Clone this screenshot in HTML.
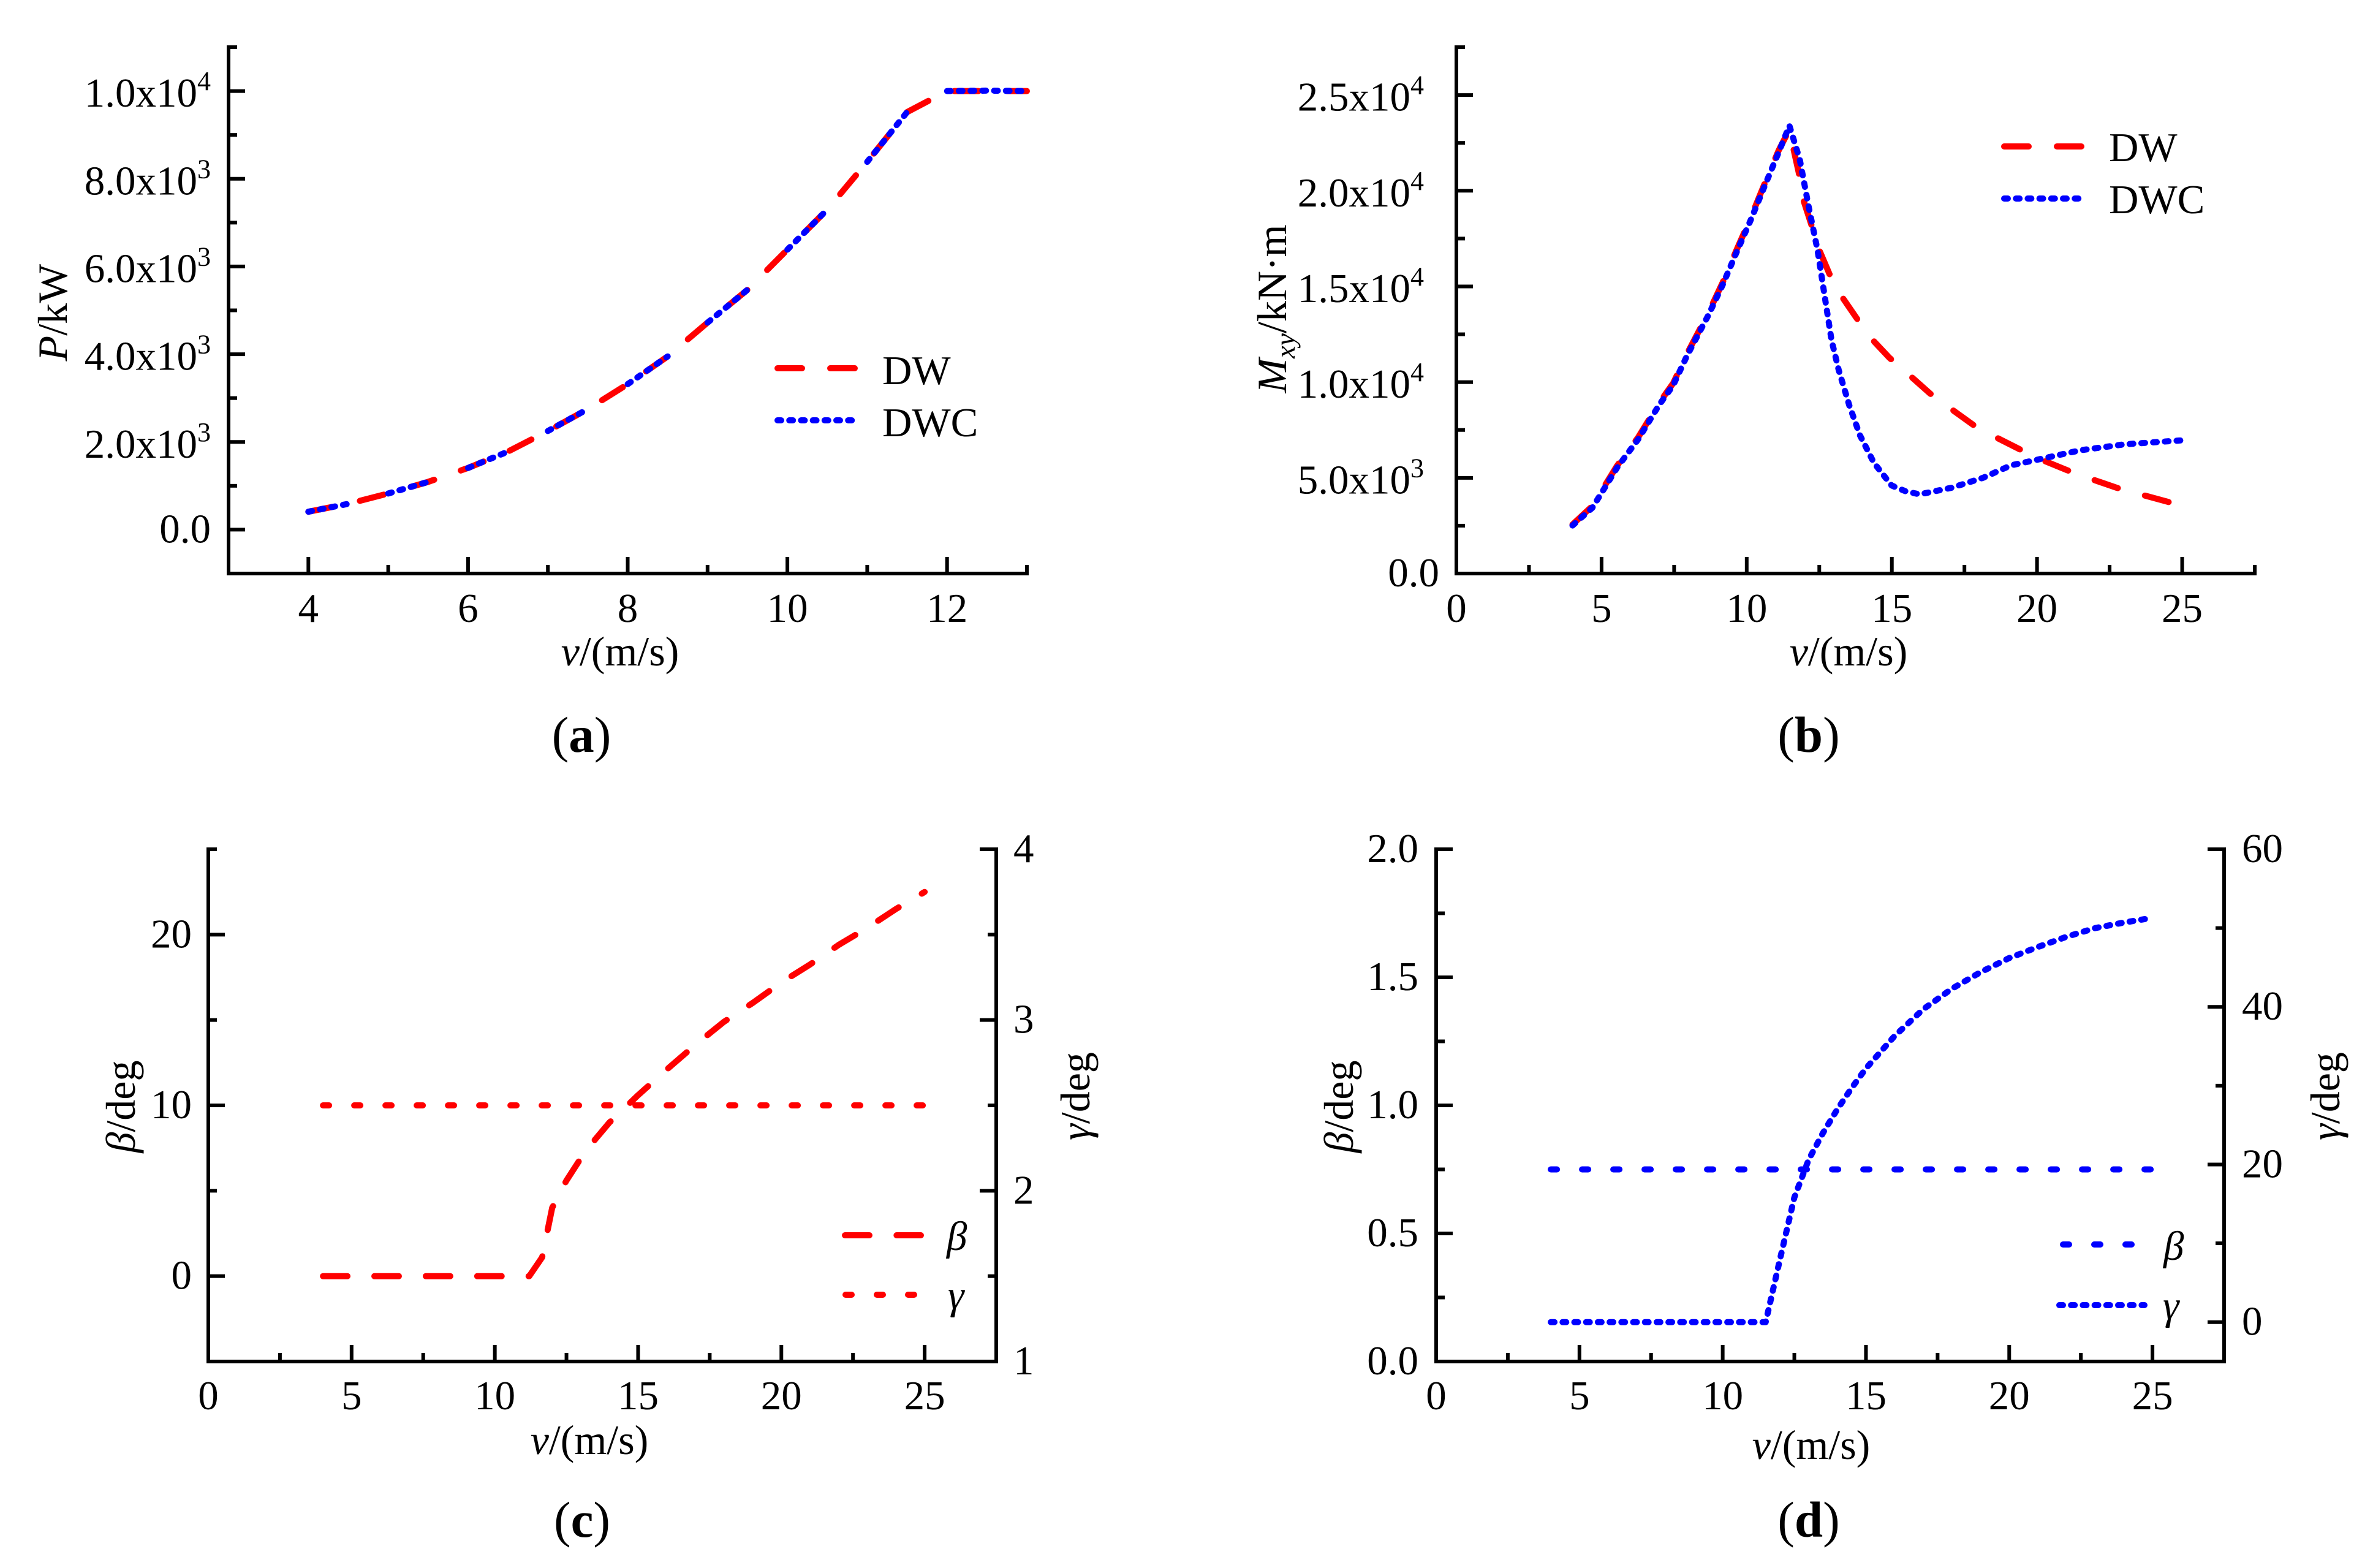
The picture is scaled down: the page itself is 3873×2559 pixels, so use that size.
<!DOCTYPE html>
<html lang="en">
<head>
<meta charset="utf-8">
<title>Wind turbine comparison charts</title>
<style>
html,body{margin:0;padding:0;background:#fff;width:3873px;height:2559px;overflow:hidden}
svg{display:block}
text{font-family:"Liberation Serif",serif;font-size:67px;fill:#000}
.it{font-style:italic}
text.xt{font-size:68px}
text.cap{font-size:83px}
.b{font-weight:bold}
.axis{fill:none;stroke:#000;stroke-width:6;stroke-linecap:square}
.tick{stroke:#000;stroke-width:6}
.series{fill:none;stroke-width:10;stroke-linecap:round;stroke-linejoin:round}
.red{stroke:#ff0000}
.blue{stroke:#0000ff}
.dash{stroke-dasharray:40 46}
.dashc{stroke-dasharray:40 44.3}
.dashs{stroke-dasharray:40 43.9}
.dot{stroke-dasharray:6 13.2}
.sdot{stroke-dasharray:10 41}
</style>
</head>
<body>
<svg id="figure" xmlns="http://www.w3.org/2000/svg" width="3873" height="2559" viewBox="0 0 3873 2559">
  <rect x="0" y="0" width="3873" height="2559" fill="#fff"/>

  <g id="panel-a">
    <text class="xt" x="1012" y="1086" text-anchor="middle"><tspan class="it">v</tspan>/(m/s)</text>
    <text class="xt" transform="translate(109 510) rotate(-90)" text-anchor="middle"><tspan class="it">P</tspan>/kW</text>
    <line class="series red dash" x1="1269" y1="601" x2="1395" y2="601"/>
    <text x="1440" y="627">DW</text>
    <line class="series blue dot" x1="1269" y1="686" x2="1403" y2="686"/>
    <text x="1440" y="712">DWC</text>
    <text class="cap" x="949" y="1227" text-anchor="middle">(<tspan class="b">a</tspan>)</text>
  </g>

  <g id="panel-b">
    <text class="xt" x="3017" y="1086" text-anchor="middle"><tspan class="it">v</tspan>/(m/s)</text>
    <text class="xt" transform="translate(2099 504) rotate(-90)" text-anchor="middle"><tspan class="it">M</tspan><tspan class="it" font-size="46" dy="14">xy</tspan><tspan dy="-14">/kN·m</tspan></text>
    <line class="series red dash" x1="3271" y1="239" x2="3397" y2="239"/>
    <text x="3442" y="263">DW</text>
    <line class="series blue dot" x1="3271" y1="324" x2="3405" y2="324"/>
    <text x="3442" y="348">DWC</text>
    <text class="cap" x="2952" y="1227" text-anchor="middle">(<tspan class="b">b</tspan>)</text>
  </g>

  <g id="panel-c">
    <text class="xt" x="962" y="2373" text-anchor="middle"><tspan class="it">v</tspan>/(m/s)</text>
    <text class="xt" transform="translate(220 1806) rotate(-90)" text-anchor="middle"><tspan class="it">β</tspan>/deg</text>
    <text class="xt" transform="translate(1778 1789) rotate(-90)" text-anchor="middle"><tspan class="it">γ</tspan>/deg</text>
    <line class="series red dashc" x1="1379" y1="2016" x2="1503" y2="2016"/>
    <text class="it" x="1545" y="2040">β</text>
    <line class="series red sdot" x1="1380" y1="2113" x2="1492" y2="2113"/>
    <text class="it" x="1547" y="2136">γ</text>
    <text class="cap" x="950" y="2508" text-anchor="middle">(<tspan class="b">c</tspan>)</text>
  </g>

  <g id="panel-d">
    <text class="xt" x="2956" y="2381" text-anchor="middle"><tspan class="it">v</tspan>/(m/s)</text>
    <text class="xt" transform="translate(2208 1806) rotate(-90)" text-anchor="middle"><tspan class="it">β</tspan>/deg</text>
    <text class="xt" transform="translate(3818 1789) rotate(-90)" text-anchor="middle"><tspan class="it">γ</tspan>/deg</text>
    <line class="series blue sdot" x1="3367" y1="2031" x2="3479" y2="2031"/>
    <text class="it" x="3531" y="2056">β</text>
    <line class="series blue dot" x1="3361" y1="2130" x2="3500" y2="2130"/>
    <text class="it" x="3530" y="2153">γ</text>
    <text class="cap" x="2952" y="2508" text-anchor="middle">(<tspan class="b">d</tspan>)</text>
  </g>
</svg>

<script>
// ---------- Panel (a) data ----------
const aSpeed = [4,4.5,5,5.5,6,6.5,7,7.5,8,8.5,9,9.5,10,10.5,11,11.5,12,12.5,13];
const aPowerDW = [410,590,824,1090,1407,1780,2250,2750,3318,3950,4720,5470,6384,7300,8386,9520,10000,10000,10000];
const aSpeedDWC = [4,4.5,null,5,5.5,null,6,6.5,null,7,7.5,null,8,8.5,null,9,9.5,null,10,10.5,null,11,11.5,null,12,12.5,13];
const aPowerDWC = [410,590,null,824,1090,null,1407,1780,null,2250,2750,null,3318,3950,null,4720,5470,null,6384,7300,null,8386,9520,null,10000,10010,10000];
const aXMajor = [4,6,8,10,12];
const aXMinor = [5,7,9,11,13];
const aXLabels = ['4','6','8','10','12'];
const aYMajor = [0,2000,4000,6000,8000,10000];
const aYMinor = [1000,3000,5000,7000,9000,11000];
const aYLabels = ['0.0','2.0x10','4.0x10','6.0x10','8.0x10','1.0x10'];
const aYExponents = ['','3','3','3','3','4'];

// ---------- Panel (b) data ----------
const bSpeedDW = [4,4.68,5,5.53,6.26,6.98,7.47,7.95,8.68,9.17,9.65,10.14,10.6,11.1,11.47,11.54,11.79,11.95,12.2,12.5,12.85,13.24,13.77,14.26,14.91,15.6,16.32,17.05,17.82,18.62,19.47,20.2,21.05,22,22.75,23.7,24.64,25];
const bMomentDW = [2560,3520,4320,5620,7110,8900,9950,11500,13620,15200,16900,18600,20300,22100,23200,22670,20970,19530,18350,16900,15650,14550,13380,12330,11280,10370,9400,8590,7750,7090,6440,5920,5390,4870,4480,4080,3690,3550];
const bSpeedDWC = [4,4.68,5,5.53,6.26,6.98,7.47,7.95,8.68,9.17,9.65,10.14,10.6,11.1,11.47,11.83,12.12,12.44,12.68,12.92,13.17,13.53,13.9,14.38,14.99,15.5,15.96,17.05,18.14,19.1,20.08,21.5,23,25];
const bMomentDWC = [2510,3430,4210,5520,7010,8800,9840,11400,13500,15080,16780,18480,20180,22000,23400,21620,19270,16900,14550,12200,10630,8800,7225,5785,4600,4280,4140,4480,5000,5650,5970,6440,6750,6960];
const bXMajor = [0,5,10,15,20,25];
const bXMinor = [2.5,7.5,12.5,17.5,22.5,27.5];
const bXLabels = ['0','5','10','15','20','25'];
const bYMajor = [0,5000,10000,15000,20000,25000];
const bYMinor = [2500,7500,12500,17500,22500,27500];
const bYLabels = ['0.0','5.0x10','1.0x10','1.5x10','2.0x10','2.5x10'];
const bYExponents = ['','3','4','4','4','4'];

// ---------- Panel (c) data ----------
const cSpeedBeta = [4,11.2,11.65,12,12.5,13,13.5,14,15,16,17,18,19,20,21,22,23,24,25];
const cBeta = [0,0,1.1,4,5.6,6.9,8,9,10.6,12.1,13.55,14.9,16,17.2,18.25,19.4,20.4,21.5,22.5];
const cSpeedGamma = [4,25];
const cGamma = [2.5,2.5];
const cXMajor = [0,5,10,15,20,25];
const cXMinor = [2.5,7.5,12.5,17.5,22.5,27.5];
const cXLabels = ['0','5','10','15','20','25'];
const cYMajor = [0,10,20];
const cYMinor = [-5,5,15,25];
const cYLabels = ['0','10','20'];
const cRightMajor = [1,2,3,4];
const cRightMinor = [1.5,2.5,3.5];
const cRightLabels = ['1','2','3','4'];

// ---------- Panel (d) data ----------
const dSpeedBeta = [4,25];
const dBeta = [0.75,0.75];
const dSpeedGamma = [4,11.5,12,12.5,13,13.5,14,14.5,15,16,17,18,19,20,21,22,23,24,25];
const dGamma = [0,0,8,15.8,20.6,24,27,29.7,32.2,36.3,39.7,42.3,44.4,46.2,47.6,48.9,50,50.7,51.3];
const dXMajor = [0,5,10,15,20,25];
const dXMinor = [2.5,7.5,12.5,17.5,22.5,27.5];
const dXLabels = ['0','5','10','15','20','25'];
const dYMajor = [0,0.5,1,1.5,2];
const dYMinor = [0.25,0.75,1.25,1.75];
const dYLabels = ['0.0','0.5','1.0','1.5','2.0'];
const dRightMajor = [0,20,40,60];
const dRightMinor = [-5,10,30,50];
const dRightLabels = ['0','20','40','60'];

const NS = 'http://www.w3.org/2000/svg';
const MAJOR = 27, MINOR = 14;

function mark(parent, tag, name, attrs) {
  const node = document.createElementNS(NS, tag);
  
  
  for (const key in attrs) node.setAttribute(key, attrs[key]);
  parent.appendChild(node);
  return node;
}

function scale(d0, d1, r0, r1) {
  return function (v) { return r0 + (v - d0) * (r1 - r0) / (d1 - d0); };
}

function drawSeries(parent, name, xs, ys, sx, sy, cls) {
  let d = '', pen = false;
  xs.forEach(function (x, i) {
    if (x === null || ys[i] === null) { pen = false; return; }
    d += (pen ? 'L' : 'M') + sx(x).toFixed(1) + ' ' + sy(ys[i]).toFixed(1);
    pen = true;
  });
  mark(parent, 'path', name, { d: d, class: 'series ' + cls });
}

function drawXAxis(parent, key, sx, x0, x1, y, major, minor, labels, labelY) {
  mark(parent, 'line', 'x-axis-line-' + key, { x1: x0, y1: y, x2: x1, y2: y, class: 'axis' });
  major.forEach(function (v, i) {
    mark(parent, 'line', 'x-major-tick-' + key, { x1: sx(v), y1: y, x2: sx(v), y2: y - MAJOR, class: 'tick' });
    const t = mark(parent, 'text', 'x-tick-label-' + key, { x: sx(v), y: labelY, 'text-anchor': 'middle' });
    t.textContent = labels[i];
  });
  minor.forEach(function (v) {
    mark(parent, 'line', 'x-minor-tick-' + key, { x1: sx(v), y1: y, x2: sx(v), y2: y - MINOR, class: 'tick' });
  });
}

function drawYAxis(parent, key, sy, x, yTop, yBot, dir, major, minor, labels, exps, labelX, anchor, plainX) {
  mark(parent, 'line', 'y-axis-line-' + key, { x1: x, y1: yTop, x2: x, y2: yBot, class: 'axis' });
  major.forEach(function (v, i) {
    mark(parent, 'line', 'y-major-tick-' + key, { x1: x, y1: sy(v), x2: x + dir * MAJOR, y2: sy(v), class: 'tick' });
    const hasExp = exps && exps[i];
    const lx = hasExp || plainX === undefined ? labelX : plainX;
    const t = mark(parent, 'text', 'y-tick-label-' + key, { x: lx, y: sy(v) + (hasExp ? 25.5 : 21), 'text-anchor': anchor });
    t.textContent = labels[i];
    if (hasExp) {
      const sup = mark(t, 'tspan', 'y-tick-exponent-' + key, { 'font-size': 44, dy: -27 });
      sup.textContent = exps[i];
    }
  });
  minor.forEach(function (v) {
    mark(parent, 'line', 'y-minor-tick-' + key, { x1: x, y1: sy(v), x2: x + dir * MINOR, y2: sy(v), class: 'tick' });
  });
}

// Panel (a)
(function () {
  const g = document.getElementById('panel-a');
  const sx = scale(3, 13, 373, 1676), sy = scale(-1000, 11000, 936, 77);
  drawSeries(g, 'series-dw-a', aSpeed, aPowerDW, sx, sy, 'red dash');
  drawSeries(g, 'series-dwc-a', aSpeedDWC, aPowerDWC, sx, sy, 'blue dot');
  drawXAxis(g, 'a', sx, 373, 1676, 936, aXMajor, aXMinor, aXLabels, 1015);
  drawYAxis(g, 'a', sy, 373, 77, 936, 1, aYMajor, aYMinor, aYLabels, aYExponents, 344, 'end');
})();

// Panel (b)
(function () {
  const g = document.getElementById('panel-b');
  const sx = scale(0, 27.5, 2377, 3680), sy = scale(0, 27500, 936, 77);
  drawSeries(g, 'series-dw-b', bSpeedDW, bMomentDW, sx, sy, 'red dash');
  drawSeries(g, 'series-dwc-b', bSpeedDWC, bMomentDWC, sx, sy, 'blue dot');
  drawXAxis(g, 'b', sx, 2377, 3680, 936, bXMajor, bXMinor, bXLabels, 1015);
  drawYAxis(g, 'b', sy, 2377, 77, 936, 1, bYMajor, bYMinor, bYLabels, bYExponents, 2324, 'end', 2349);
})();

// Panel (c)
(function () {
  const g = document.getElementById('panel-c');
  const sx = scale(0, 27.5, 340, 1626);
  const sl = scale(-5, 25, 2222, 1386), sr = scale(1, 4, 2222, 1386);
  drawSeries(g, 'series-beta-c', cSpeedBeta, cBeta, sx, sl, 'red dashs');
  drawSeries(g, 'series-gamma-c', cSpeedGamma, cGamma, sx, sr, 'red sdot');
  drawXAxis(g, 'c', sx, 340, 1626, 2222, cXMajor, cXMinor, cXLabels, 2300);
  drawYAxis(g, 'c-left', sl, 340, 1386, 2222, 1, cYMajor, cYMinor, cYLabels, null, 313, 'end');
  drawYAxis(g, 'c-right', sr, 1626, 1386, 2222, -1, cRightMajor, cRightMinor, cRightLabels, null, 1654, 'start');
})();

// Panel (d)
(function () {
  const g = document.getElementById('panel-d');
  const sx = scale(0, 27.5, 2344, 3630);
  const sl = scale(0, 2, 2222, 1386), sr = scale(-5, 60, 2222, 1386);
  drawSeries(g, 'series-beta-d', dSpeedBeta, dBeta, sx, sl, 'blue sdot');
  drawSeries(g, 'series-gamma-d', dSpeedGamma, dGamma, sx, sr, 'blue dot');
  drawXAxis(g, 'd', sx, 2344, 3630, 2222, dXMajor, dXMinor, dXLabels, 2300);
  drawYAxis(g, 'd-left', sl, 2344, 1386, 2222, 1, dYMajor, dYMinor, dYLabels, null, 2315, 'end');
  drawYAxis(g, 'd-right', sr, 3630, 1386, 2222, -1, dRightMajor, dRightMinor, dRightLabels, null, 3659, 'start');
})();
</script>
</body>
</html>
